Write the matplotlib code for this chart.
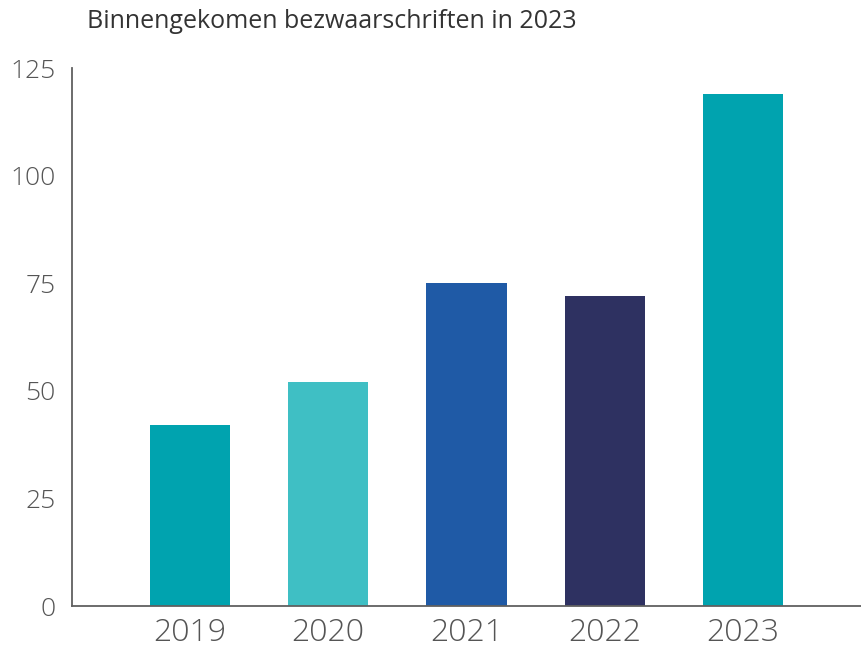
import matplotlib.pyplot as plt

years = ['2019', '2020', '2021', '2022', '2023']
counts = [42, 52, 75, 72, 119]
bar_colors = ['#00A3AF', '#3FBFC4', '#1F5AA6', '#2E3161', '#00A3AF']
y_ticks = [0, 25, 50, 75, 100, 125]

title = 'Binnengekomen bezwaarschriften in 2023'

plt.rcParams['font.family'] = ['Open Sans', 'DejaVu Sans']

fig = plt.figure(figsize=(8.62, 6.5), dpi=100)
ax = fig.add_axes([72 / 862, 44 / 650, 790 / 862, 538 / 650])

x = range(len(years))
ax.bar(x, counts, width=0.58, color=bar_colors)

ax.set_xlim(-0.853, 4.86)
ax.set_ylim(0, 125)
ax.set_yticks(y_ticks)
ax.set_xticks(list(x))
ax.set_xticklabels(years)

ax.tick_params(axis='y', length=0, pad=12, labelsize=19, labelcolor='#555555')
ax.tick_params(axis='x', length=0, pad=8, labelsize=23, labelcolor='#555555')
for lbl in ax.get_xticklabels() + ax.get_yticklabels():
    lbl.set_fontweight('light')

for side in ['top', 'right']:
    ax.spines[side].set_visible(False)
for side in ['left', 'bottom']:
    ax.spines[side].set_color('#606060')
    ax.spines[side].set_linewidth(1.3)

fig.text(87 / 862, 1 - 22 / 650, title, fontsize=18, color='#333333',
         ha='left', va='center')

fig.savefig('out.png', dpi=100)
